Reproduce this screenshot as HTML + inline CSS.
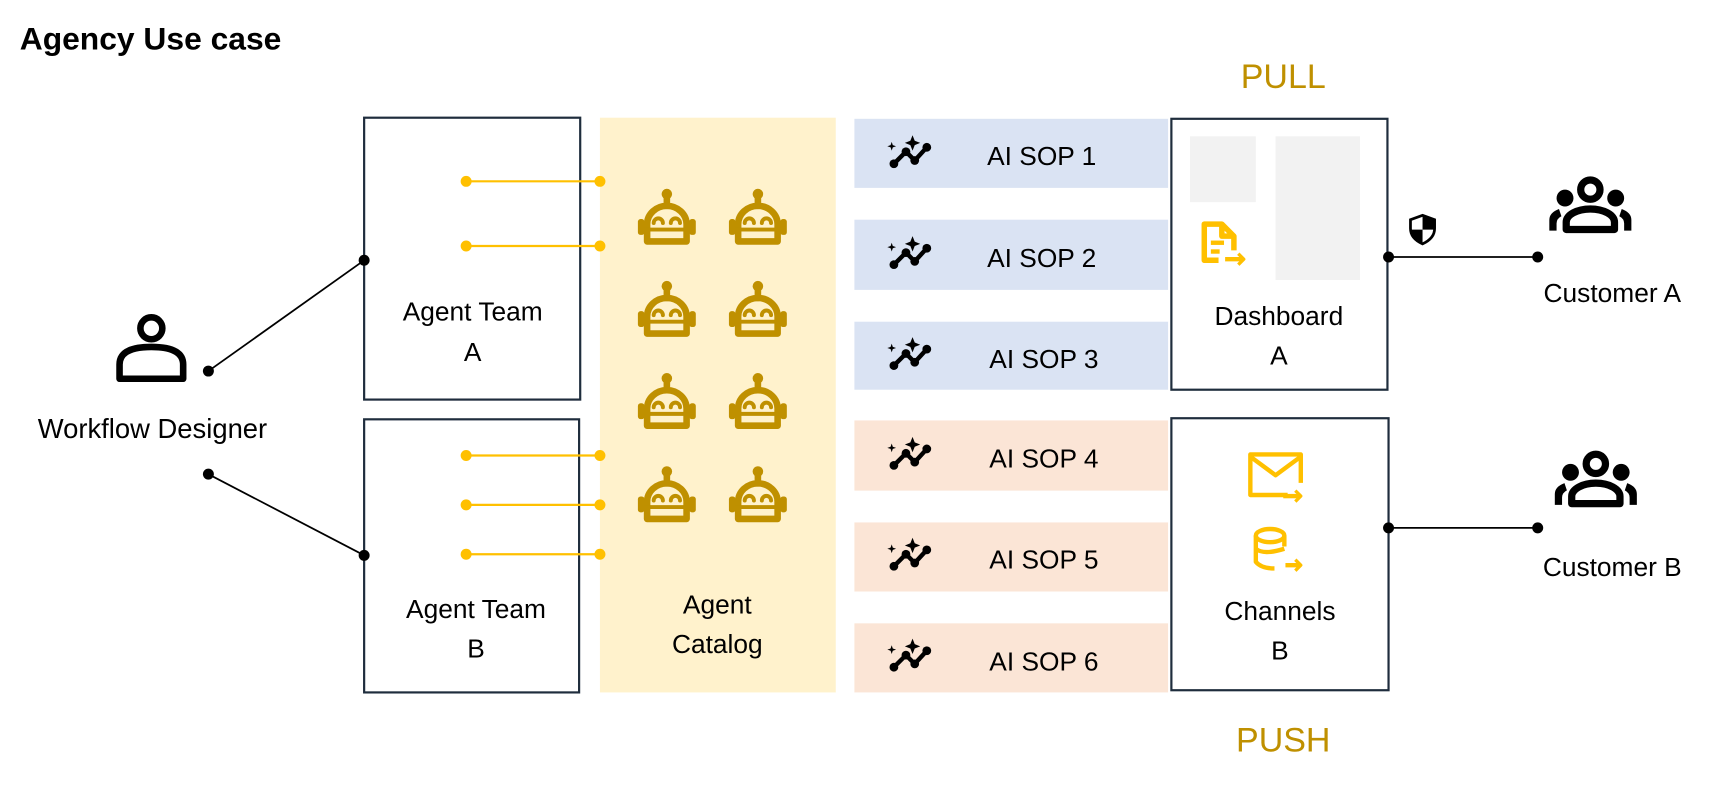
<!DOCTYPE html>
<html><head><meta charset="utf-8"><style>html,body{margin:0;padding:0;background:#fff}svg{display:block}text{font-family:"Liberation Sans",sans-serif}</style></head>
<body>
<svg width="1711" height="786" viewBox="0 0 1560 716" xmlns="http://www.w3.org/2000/svg">
<defs>
<g id="robot" fill="none" stroke="#bf9000" stroke-width="5" stroke-linecap="round">
<circle cx="0" cy="-22" r="4" fill="#bf9000" stroke="none"/>
<line x1="0" y1="-20" x2="0" y2="-13"/>
<path d="M-15,14 V1 A15,14 0 0 1 15,1 V14 Z" stroke-linejoin="round"/>
<rect x="-22" y="-3" width="5" height="12" fill="#bf9000" stroke="none" rx="2"/>
<rect x="17" y="-3" width="5" height="12" fill="#bf9000" stroke="none" rx="2"/>
<line x1="-18" y1="5" x2="18" y2="5" stroke-width="3"/>
<path d="M-10,0 a3.5,3.5 0 0 1 7,0 M3,0 a3.5,3.5 0 0 1 7,0" stroke-width="3"/>
</g>
<g id="sop">
<polyline points="-17,9 -6,-2 2,6 13,-6" fill="none" stroke="#000" stroke-width="4" stroke-linejoin="round"/>
<circle cx="-17" cy="9" r="4"/><circle cx="-6" cy="-2" r="4"/><circle cx="2" cy="6" r="4"/><circle cx="13" cy="-6" r="4"/>
<path d="M0,-17 l2,5 5,2 -5,2 -2,5 -2,-5 -5,-2 5,-2z"/>
<path d="M-19,-11 l1,3 3,1 -3,1 -1,3 -1,-3 -3,-1 3,-1z"/>
</g>
<g id="people">
<circle cx="0" cy="-14" r="8" fill="none" stroke="#000" stroke-width="6"/>
<circle cx="-21" cy="-7" r="7"/><circle cx="21" cy="-7" r="7"/>
<path d="M-20,19 V13 A20,11 0 0 1 20,13 V19 Z" fill="none" stroke="#000" stroke-width="6" stroke-linejoin="round"/>
<path d="M-34,20 V11 Q-34,5 -26,2 L-24,8 Q-28,10 -28,14 V20Z"/>
<path d="M34,20 V11 Q34,5 26,2 L24,8 Q28,10 28,14 V20Z"/>
</g>
</defs>
<text x="18" y="45" font-size="29" font-weight="bold">Agency Use case</text>
<text x="1170" y="80" font-size="31" fill="#bf9000" text-anchor="middle">PULL</text>
<text x="1170" y="685" font-size="31" fill="#bf9000" text-anchor="middle">PUSH</text>

<rect x="547" y="107" width="215" height="524" fill="#fff2cc"/>
<rect x="332" y="107" width="197" height="257" fill="none" stroke="#1f2d3d" stroke-width="2"/>
<rect x="332" y="382" width="196" height="249" fill="none" stroke="#1f2d3d" stroke-width="2"/>
<text x="431" y="292" font-size="24" text-anchor="middle">Agent Team</text>
<text x="431" y="329" font-size="24" text-anchor="middle">A</text>
<text x="434" y="563" font-size="24" text-anchor="middle">Agent Team</text>
<text x="434" y="599" font-size="24" text-anchor="middle">B</text>
<text x="654" y="559" font-size="24" text-anchor="middle">Agent</text>
<text x="654" y="595" font-size="24" text-anchor="middle">Catalog</text>

<g stroke="#ffc000" stroke-width="2">
<line x1="425" y1="165" x2="547" y2="165"/><line x1="425" y1="224" x2="547" y2="224"/>
<line x1="425" y1="415" x2="547" y2="415"/><line x1="425" y1="460" x2="547" y2="460"/><line x1="425" y1="505" x2="547" y2="505"/>
</g>
<g fill="#ffc000">
<circle cx="425" cy="165" r="5"/><circle cx="547" cy="165" r="5"/><circle cx="425" cy="224" r="5"/><circle cx="547" cy="224" r="5"/>
<circle cx="425" cy="415" r="5"/><circle cx="547" cy="415" r="5"/><circle cx="425" cy="460" r="5"/><circle cx="547" cy="460" r="5"/><circle cx="425" cy="505" r="5"/><circle cx="547" cy="505" r="5"/>
</g>
<g transform="translate(608,203) scale(1.2)"><use href="#robot"/></g><g transform="translate(691,203) scale(1.2)"><use href="#robot"/></g>
<g transform="translate(608,287) scale(1.2)"><use href="#robot"/></g><g transform="translate(691,287) scale(1.2)"><use href="#robot"/></g>
<g transform="translate(608,371) scale(1.2)"><use href="#robot"/></g><g transform="translate(691,371) scale(1.2)"><use href="#robot"/></g>
<g transform="translate(608,456) scale(1.2)"><use href="#robot"/></g><g transform="translate(691,456) scale(1.2)"><use href="#robot"/></g>

<rect x="779" y="108" width="286" height="63" fill="#dae3f3"/>
<rect x="779" y="200" width="286" height="64" fill="#dae3f3"/>
<rect x="779" y="293" width="286" height="62" fill="#dae3f3"/>
<rect x="779" y="383" width="286" height="64" fill="#fbe5d6"/>
<rect x="779" y="476" width="286" height="63" fill="#fbe5d6"/>
<rect x="779" y="568" width="286" height="63" fill="#fbe5d6"/>
<use href="#sop" x="832" y="140"/><use href="#sop" x="832" y="232"/><use href="#sop" x="832" y="324"/>
<use href="#sop" x="832" y="415"/><use href="#sop" x="832" y="507"/><use href="#sop" x="832" y="599"/>
<g font-size="24">
<text x="900" y="150">AI SOP 1</text><text x="900" y="243">AI SOP 2</text><text x="902" y="335">AI SOP 3</text>
<text x="902" y="426">AI SOP 4</text><text x="902" y="518">AI SOP 5</text><text x="902" y="611">AI SOP 6</text>
</g>

<rect x="1068" y="108" width="197" height="247" fill="none" stroke="#1f2d3d" stroke-width="2"/>
<rect x="1085" y="124" width="60" height="60" fill="#f2f2f2"/>
<rect x="1163" y="124" width="77" height="131" fill="#f2f2f2"/>
<g fill="none" stroke="#ffc000" stroke-width="5" stroke-linejoin="round">
<path d="M1111,237 H1098 V204 H1114 L1125,215 V228"/>
<path d="M1114,204 V215 H1125" stroke-width="5"/>
<line x1="1104" y1="221" x2="1116" y2="221" stroke-width="4"/><line x1="1104" y1="229" x2="1112" y2="229" stroke-width="4"/>
<line x1="1117" y1="236" x2="1133" y2="236" stroke-width="4"/><path d="M1129,231 l5,5 -5,5" stroke-width="3"/>
</g>
<text x="1166" y="296" font-size="24" text-anchor="middle">Dashboard</text>
<text x="1166" y="332" font-size="24" text-anchor="middle">A</text>

<rect x="1068" y="381" width="198" height="248" fill="none" stroke="#1f2d3d" stroke-width="2"/>
<g fill="none" stroke="#ffc000" stroke-width="4" stroke-linejoin="round">
<path d="M1174,451 H1140 V414 H1186 V440"/><path d="M1140,416 L1163,433 L1186,416"/>
<line x1="1170" y1="452" x2="1184" y2="452"/><path d="M1181,447 l5,5 -5,5" stroke-width="3"/>
<ellipse cx="1158" cy="488" rx="13" ry="6"/>
<path d="M1145,488 V512 Q1150,518 1162,518 M1171,488 V498 M1145,500 Q1152,506 1171,500"/>
<line x1="1172" y1="515" x2="1184" y2="515"/><path d="M1181,510 l5,5 -5,5" stroke-width="3"/>
</g>
<text x="1167" y="565" font-size="24" text-anchor="middle">Channels</text>
<text x="1167" y="601" font-size="24" text-anchor="middle">B</text>

<g fill="none" stroke="#000" stroke-width="6">
<circle cx="138" cy="299" r="10"/>
<path d="M109,345 V332 Q109,316 138,316 Q167,316 167,332 V345 Z" stroke-linejoin="round"/>
</g>
<text x="139" y="399" font-size="25" text-anchor="middle">Workflow Designer</text>
<g stroke="#000" stroke-width="1.6"><line x1="190" y1="338" x2="332" y2="237"/><line x1="190" y1="432" x2="332" y2="506"/>
<line x1="1266" y1="234" x2="1402" y2="234"/><line x1="1266" y1="481" x2="1402" y2="481"/></g>
<g fill="#000"><circle cx="190" cy="338" r="5"/><circle cx="332" cy="237" r="5"/><circle cx="190" cy="432" r="5"/><circle cx="332" cy="506" r="5"/>
<circle cx="1266" cy="234" r="5"/><circle cx="1402" cy="234" r="5"/><circle cx="1266" cy="481" r="5"/><circle cx="1402" cy="481" r="5"/></g>
<g>
<path d="M1297,196 L1308,200 V208 Q1308,217 1297,222 Q1286,217 1286,208 V200 Z" fill="#fff" stroke="#000" stroke-width="2.5"/>
<path d="M1297,196 L1308,200 V209 H1297 Z M1297,209 H1286 Q1287,217 1297,222 Z" fill="#000"/>
</g>
<g transform="translate(1450,188) scale(1.1)"><use href="#people"/></g>
<g transform="translate(1455,438) scale(1.1)"><use href="#people"/></g>
<text x="1470" y="275" font-size="24" text-anchor="middle">Customer A</text>
<text x="1470" y="525" font-size="24" text-anchor="middle">Customer B</text>
</svg>
</body></html>
